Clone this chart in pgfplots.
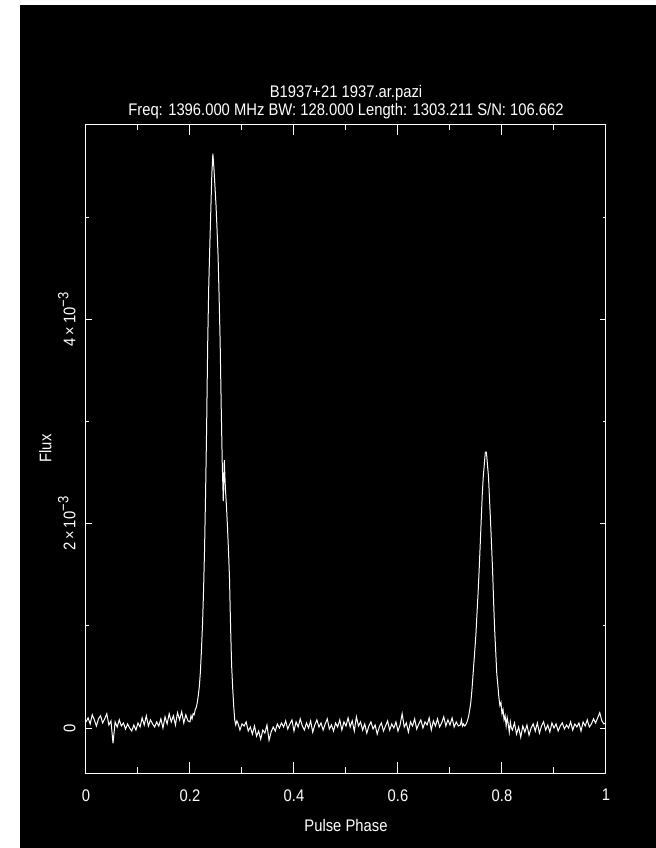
\documentclass[border=0pt]{standalone}
\usepackage{fontspec}
\setmainfont{Liberation Sans}[FakeStretch=0.88]
\usepackage{pgfplots}
\pgfplotsset{compat=1.18}
\newcommand{\pgfont}{\fontsize{8.4}{9}\selectfont}
\newcommand{\supx}[1]{\raisebox{0.8ex}{\fontsize{7.4}{7.4}\selectfont #1}}
\begin{document}
\begin{tikzpicture}
\useasboundingbox (0pt,0pt) rectangle (328pt,424pt);
\fill[white] (0pt,0pt) rectangle (328pt,424pt);
\fill[black] (10pt,0pt) rectangle (328pt,421.5pt);
\begin{axis}[
  at={(43pt,37.5pt)}, anchor=south west,
  scale only axis, width=260pt, height=324.5pt,
  xmin=0, xmax=1, ymin=-0.44, ymax=5.91,
  xtick={0,0.2,0.4,0.6,0.8,1},
  xticklabels={0,0.2,0.4,0.6,0.8,1},
  minor xtick={0.1,0.3,0.5,0.7,0.9},
  ytick={0,2,4},
  yticklabels={0,{2\,×\,10\supx{−3}},{4\,×\,10\supx{−3}}},
  minor ytick={1,3,5},
  tick align=inside,
  axis line style={white, line width=0.5pt},
  every tick/.style={white, line width=0.5pt},
  every major x tick/.append style={/pgfplots/major tick length=5.5pt},
  every minor x tick/.append style={/pgfplots/minor tick length=3pt},
  every major y tick/.append style={/pgfplots/major tick length=3pt},
  every minor y tick/.append style={/pgfplots/minor tick length=1.5pt},
  xticklabel style={font=\pgfont, text=white, anchor=north, inner sep=0pt, yshift=-8pt},
  yticklabel style={font=\pgfont, text=white, rotate=90, anchor=south, inner xsep=0pt, inner ysep=5pt},
  title={B1937+21 1937.ar.pazi\\Freq: 1396.000 MHz BW: 128.000 Length: 1303.211 S/N: 106.662},
  every axis title/.style={at={(axis description cs:0.5,1)}, anchor=south, yshift=2.5pt, align=center, inner sep=0pt, font=\pgfont, text=white},
  xlabel={Pulse Phase},
  every axis x label/.style={at={(axis description cs:0.5,0)}, anchor=north, yshift=-23pt, inner sep=0pt, font=\pgfont, text=white},
  ylabel={Flux},
  every axis y label/.style={at={(axis description cs:-0.0654,0.5)}, rotate=90, anchor=south, inner sep=0pt, font=\pgfont, text=white},
]
\addplot[white, line width=0.5pt, no markers, sharp plot] table {
x y
0.000 0.06
0.004 0.10
0.008 0.04
0.012 0.13
0.016 0.08
0.020 0.02
0.024 0.09
0.028 0.12
0.032 0.05
0.036 0.09
0.040 0.14
0.044 0.03
0.048 0.07
0.052 -0.15
0.056 0.06
0.060 0.01
0.064 0.08
0.068 0.02
0.072 0.05
0.076 -0.01
0.080 0.04
0.084 0.00
0.088 -0.03
0.092 0.03
0.096 -0.02
0.100 0.05
0.104 0.01
0.108 0.10
0.112 0.03
0.116 0.12
0.120 0.02
0.124 0.08
0.128 0.04
0.132 0.01
0.136 0.06
0.140 0.02
0.144 0.09
0.148 0.00
0.152 0.11
0.156 0.04
0.160 0.14
0.164 0.06
0.168 0.12
0.172 0.03
0.176 0.15
0.180 0.08
0.184 0.16
0.188 0.05
0.192 0.13
0.196 0.07
0.200 0.06
0.202 0.12
0.204 0.09
0.206 0.14
0.208 0.13
0.210 0.18
0.212 0.20
0.214 0.25
0.216 0.32
0.218 0.41
0.220 0.55
0.222 0.76
0.224 1.00
0.226 1.33
0.228 1.75
0.230 2.30
0.232 2.95
0.234 3.75
0.236 4.31
0.238 4.70
0.240 5.06
0.242 5.42
0.244 5.62
0.246 5.48
0.248 5.30
0.250 5.12
0.252 4.88
0.254 4.62
0.256 4.22
0.258 3.77
0.260 3.15
0.262 2.60
0.264 2.22
0.266 2.62
0.268 2.35
0.270 2.18
0.272 1.98
0.274 1.74
0.276 1.46
0.278 1.00
0.280 0.62
0.282 0.40
0.284 0.22
0.286 0.08
0.288 0.03
0.290 0.07
0.292 0.05
0.296 -0.02
0.300 0.04
0.304 0.02
0.308 0.06
0.312 -0.03
0.316 0.01
0.320 -0.06
0.324 0.02
0.328 -0.08
0.332 -0.03
0.336 -0.11
0.340 -0.02
0.344 -0.05
0.348 0.03
0.352 -0.12
0.356 -0.04
0.360 0.01
0.364 -0.03
0.368 0.04
0.372 0.00
0.376 0.05
0.380 0.01
0.384 0.07
0.388 -0.01
0.392 0.04
0.396 0.08
0.400 -0.03
0.404 0.06
0.408 0.01
0.412 0.09
0.416 0.02
0.420 -0.02
0.424 0.05
0.428 0.00
0.432 0.07
0.436 -0.04
0.440 0.03
0.444 0.08
0.448 0.01
0.452 0.05
0.456 -0.02
0.460 0.04
0.464 0.09
0.468 -0.01
0.472 0.03
0.476 -0.03
0.480 0.05
0.484 0.01
0.488 0.08
0.492 -0.02
0.496 0.06
0.500 0.02
0.504 0.10
0.508 0.01
0.512 0.07
0.516 -0.03
0.520 0.11
0.524 0.02
0.528 0.06
0.532 -0.02
0.536 0.04
0.540 -0.05
0.544 0.02
0.548 0.06
0.552 -0.01
0.556 0.03
0.560 -0.06
0.564 0.01
0.568 0.05
0.572 -0.03
0.576 0.02
0.580 0.07
0.584 -0.02
0.588 0.04
0.592 0.00
0.596 0.06
0.600 -0.03
0.604 0.03
0.608 0.14
0.612 0.01
0.616 0.05
0.620 -0.04
0.624 0.06
0.628 0.02
0.632 0.09
0.636 -0.01
0.640 0.04
0.644 0.08
0.648 0.00
0.652 0.06
0.656 0.03
0.660 0.10
0.664 -0.02
0.668 0.07
0.672 0.02
0.676 0.09
0.680 0.01
0.684 0.05
0.688 0.11
0.692 0.02
0.696 0.08
0.700 0.03
0.704 0.10
0.708 0.01
0.712 0.06
0.716 0.02
0.720 0.03
0.722 0.08
0.724 0.02
0.726 0.04
0.728 0.02
0.730 0.03
0.732 0.05
0.734 0.08
0.736 0.12
0.738 0.18
0.740 0.25
0.742 0.36
0.744 0.50
0.746 0.64
0.748 0.78
0.750 0.93
0.752 1.13
0.754 1.32
0.756 1.54
0.758 1.78
0.760 2.03
0.762 2.28
0.764 2.46
0.766 2.58
0.768 2.70
0.770 2.70
0.772 2.58
0.774 2.46
0.776 2.24
0.778 2.02
0.780 1.78
0.782 1.53
0.784 1.22
0.786 0.95
0.788 0.74
0.790 0.53
0.792 0.42
0.794 0.30
0.796 0.22
0.798 0.25
0.800 0.14
0.802 0.18
0.804 0.08
0.806 0.12
0.808 0.02
0.810 0.10
0.812 0.04
0.814 -0.04
0.816 0.06
0.818 0.00
0.820 -0.02
0.824 0.05
0.828 -0.06
0.832 0.01
0.836 -0.09
0.840 0.02
0.844 -0.04
0.848 0.03
0.852 -0.07
0.856 0.00
0.860 0.04
0.864 -0.03
0.868 0.05
0.872 -0.05
0.876 0.02
0.880 0.06
0.884 -0.02
0.888 0.03
0.892 -0.04
0.896 0.05
0.900 0.00
0.904 0.04
0.908 -0.03
0.912 0.02
0.916 0.05
0.920 -0.01
0.924 0.03
0.928 0.00
0.932 0.06
0.936 -0.02
0.940 0.04
0.944 0.01
0.948 0.05
0.952 -0.03
0.956 0.06
0.960 0.02
0.964 0.08
0.968 0.01
0.972 0.04
0.976 0.09
0.980 0.05
0.984 0.10
0.988 0.15
0.992 0.07
0.996 0.04
1.000 0.05
};
\end{axis}
\end{tikzpicture}
\end{document}
